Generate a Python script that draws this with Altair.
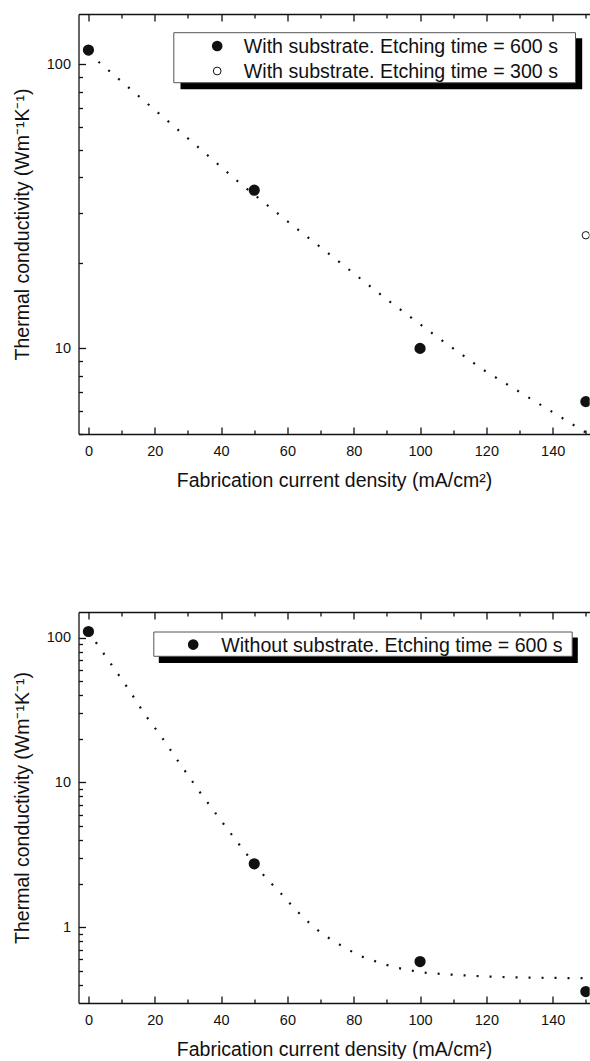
import altair as alt
import pandas as pd

FONT = "Liberation Sans"

# ---------------- data ----------------
# top panel: with substrate
x_sub = [0, 50, 100, 150]
k_sub_600 = [112, 36, 10, 6.5]
x_sub_300 = [150]
k_sub_300 = [25]
fit_top_x = [0, 3.5, 17.6, 31.7, 45.7, 60, 75, 90.9, 105, 119.1, 133.2, 147.2, 152]
fit_top_y = [109, 100.8, 72.9, 52.7, 38.1, 28, 20.4, 14.6, 11.0, 8.4, 6.67, 5.3, 4.9]

# bottom panel: without substrate
x_nosub = [0, 50, 100, 150]
k_nosub_600 = [110, 2.74, 0.58, 0.36]
fit_bot_x = [0, 2.5, 7.4, 12.1, 16.8, 21.6, 24.1, 26.4, 33.7, 41.5, 46.7, 52.3, 55.3,
             58.6, 61.8, 65.3, 68.6, 72.1, 75.7, 78.9, 82.4, 85.9, 89.5, 93, 96.5,
             99.8, 103, 110, 120, 130, 140, 148.2, 152]
fit_bot_y = [110, 90.9, 62.8, 44, 29.9, 21.3, 17.6, 14.7, 8.5, 4.9, 3.42, 2.36, 1.99,
             1.66, 1.37, 1.14, 0.975, 0.853, 0.76, 0.69, 0.628, 0.589, 0.553, 0.525, 0.508,
             0.49, 0.482, 0.47, 0.457, 0.45, 0.447, 0.445, 0.444]

# ticks / labels
x_major = [0, 20, 40, 60, 80, 100, 120, 140]
x_minor = [10, 30, 50, 70, 90, 110, 130, 150]
y_major_top = [10, 100]
y_minor_top = [5, 6, 7, 8, 9, 20, 30, 40, 50, 60, 70, 80, 90]
y_major_bot = [1, 10, 100]
y_minor_bot = [0.4, 0.5, 0.6, 0.7, 0.8, 0.9, 2, 3, 4, 5, 6, 7, 8, 9,
               20, 30, 40, 50, 60, 70, 80, 90]

legend_top = ["With substrate. Etching time = 600 s", "With substrate. Etching time = 300 s"]
legend_bot = ["Without substrate. Etching time = 600 s"]
x_title = "Fabrication current density (mA/cm²)"
y_title = "Thermal conductivity (Wm⁻¹K⁻¹)"

X_DOMAIN = [-3, 151.1]
PLOT_W = 511
INK = "#111111"


def panel(height, ydom, ymaj, ymin, series, fit_x, fit_y, legend):
    xs = alt.Scale(domain=X_DOMAIN, nice=False, zero=False)
    ys = alt.Scale(type="log", domain=ydom, nice=False)
    fit_df = pd.DataFrame({"x": fit_x, "y": fit_y})

    base = dict(grid=False, labelFont=FONT, titleFont=FONT, tickColor=INK,
                labelColor=INK, titleColor=INK, tickWidth=1.3)

    def ax(orient, values, size, labels=False, title=None, **kw):
        return alt.Axis(orient=orient, values=values, offset=-size, tickSize=size,
                        domain=False, labels=labels, title=title, **base, **kw)

    def dom_ax(orient):
        return alt.Axis(orient=orient, ticks=False, labels=False, domain=True,
                        domainColor=INK, domainWidth=1.3, title=None, grid=False)

    xb_major = ax("bottom", x_major, 7, labels=True, title=x_title, format="d",
                  labelFontSize=14.5, labelPadding=10, titleFontSize=19.5,
                  titleFontWeight="normal", titlePadding=14)
    xb_minor = ax("bottom", x_minor, 4)
    xt_major = ax("top", x_major, 7)
    xt_minor = ax("top", x_minor, 4)
    yl_major = ax("left", ymaj, 7, labels=True, title=y_title, format="~g",
                  labelFontSize=14.5, labelPadding=8, titleFontSize=19.5,
                  titleFontWeight="normal", titlePadding=14)
    yl_minor = ax("left", ymin, 4)

    def enc(ch, xaxis, yaxis, xf="x", yf="y"):
        return ch.encode(x=alt.X(f"{xf}:Q", scale=xs, axis=xaxis),
                         y=alt.Y(f"{yf}:Q", scale=ys, axis=yaxis))

    layers = []
    layers.append(enc(alt.Chart(fit_df).mark_line(
        color=INK, strokeWidth=2.2, strokeDash=[2, 11], clip=True), xb_major, yl_major))

    first = True
    for xs_, ys_, filled in series:
        df = pd.DataFrame({"x": xs_, "y": ys_})
        if filled:
            m = alt.Chart(df).mark_point(shape="circle", filled=True, fill=INK,
                                         stroke=INK, size=85, opacity=1, clip=True)
        else:
            m = alt.Chart(df).mark_point(shape="circle", filled=False, stroke=INK,
                                         strokeWidth=1, size=55, opacity=1, clip=True)
        layers.append(enc(m, xb_minor if first else None, yl_minor if first else None))
        first = False

    ghost = alt.Chart(fit_df).mark_point(opacity=0, size=1, clip=True)
    layers.append(enc(ghost, dom_ax("bottom"), dom_ax("left")))
    layers.append(enc(ghost, xt_major, None))
    layers.append(enc(ghost, xt_minor, None))
    layers.append(enc(ghost, dom_ax("top"), None))

    # legend box with drop shadow
    lg = legend
    one = pd.DataFrame({"k": [0]})
    layers.append(alt.Chart(one).mark_rect(fill="black").encode(
        x=alt.value(lg["shadow"][0]), x2=alt.value(lg["shadow"][1]),
        y=alt.value(lg["shadow"][2]), y2=alt.value(lg["shadow"][3])))
    layers.append(alt.Chart(one).mark_rect(fill="white", stroke="#555555", strokeWidth=1).encode(
        x=alt.value(lg["box"][0]), x2=alt.value(lg["box"][1]),
        y=alt.value(lg["box"][2]), y2=alt.value(lg["box"][3])))
    for i, (label, filled) in enumerate(zip(lg["labels"], lg["filled"])):
        yy = lg["row_y"][i]
        if filled:
            sym = alt.Chart(one).mark_point(shape="circle", filled=True, fill=INK,
                                            stroke=INK, size=75, opacity=1)
        else:
            sym = alt.Chart(one).mark_point(shape="circle", filled=False, stroke=INK,
                                            strokeWidth=1, size=60, opacity=1)
        layers.append(sym.encode(x=alt.value(lg["sym_x"]), y=alt.value(yy)))
        layers.append(alt.Chart(one).mark_text(
            text=label, font=FONT, fontSize=19.6, color=INK, align="left",
            baseline="middle", dy=1).encode(x=alt.value(lg["text_x"]), y=alt.value(yy)))

    return alt.layer(*layers).resolve_axis(x="independent", y="independent").properties(
        width=PLOT_W, height=height)


top = panel(
    420, [5, 150], y_major_top, y_minor_top,
    [(x_sub, k_sub_600, True), (x_sub_300, k_sub_300, False)],
    fit_top_x, fit_top_y,
    dict(shadow=[102, 503.7, 24.3, 75.3], box=[95.3, 497, 18.7, 68.7],
         sym_x=138.7, text_x=165.3, row_y=[32, 57],
         labels=legend_top, filled=[True, False]),
)

bottom = panel(
    391, [0.3, 150], y_major_bot, y_minor_bot,
    [(x_nosub, k_nosub_600, True)],
    fit_bot_x, fit_bot_y,
    dict(shadow=[80.3, 499.3, 25.6, 51], box=[75.3, 493.7, 20, 44.3],
         sym_x=114.7, text_x=142.7, row_y=[32.6],
         labels=legend_bot, filled=[True]),
)

chart = alt.vconcat(top, bottom, spacing=121).properties(
    padding={"top": 13, "left": 11.5, "right": 0, "bottom": 0},
    background="white",
).configure_view(stroke=None)

chart.save("out.html", embed_options={"renderer": "svg", "actions": False})
